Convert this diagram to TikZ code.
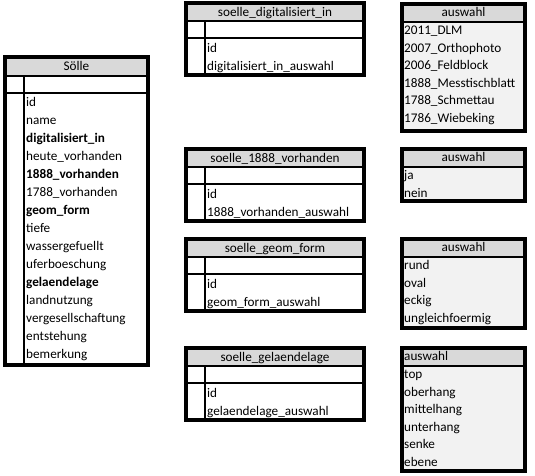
\documentclass[tikz,border=0pt]{standalone}
\usepackage{fontspec}
\setmainfont{Carlito}
\usetikzlibrary{positioning}
\definecolor{headgray}{HTML}{D9D9D9}
\definecolor{listgray}{HTML}{F2F2F2}
\tikzset{every node/.style={font=\fontsize{13.2}{15}\selectfont,inner sep=0pt,text height=9.5pt,text depth=2.5pt},
  frame/.style={line width=3.6pt},thinrule/.style={line width=1.1pt},midrule/.style={line width=2pt},
  entry/.style={anchor=west}}

\begin{document}
\begin{tikzpicture}[x=1pt,y=-1pt]
\useasboundingbox (0,0) rectangle (535,475);
% main table
\fill[headgray] (5,57) rectangle (148,76);
\draw[thinrule] (5,76)--(148,76); \draw[midrule] (5,93)--(148,93); \draw[thinrule] (24,76)--(24,365);
\draw[frame] (5,57) rectangle (148,365);
\node (soelle-head) at (76.5,66.5) {Sölle};
\foreach \f [count=\i from 0] in {id,name,\textbf{digitalisiert\_in},heute\_vorhanden,\textbf{1888\_vorhanden},1788\_vorhanden,\textbf{geom\_form},tiefe,wassergefuellt,uferboeschung,\textbf{gelaendelage},landnutzung,vergesellschaftung,entstehung,bemerkung}
  \node[entry] (soelle-\i) at (26,103+18*\i) {\f};
% link tables
\foreach \tn/\ty/\tlab/\tfld in {dig/3/soelle\_digitalisiert\_in/digitalisiert\_in\_auswahl,vor/149/soelle\_1888\_vorhanden/1888\_vorhanden\_auswahl,geo/239/soelle\_geom\_form/geom\_form\_auswahl,gel/348/soelle\_gelaendelage/gelaendelage\_auswahl}{
  \fill[headgray] (186,\ty) rectangle (364,\ty+18);
  \draw[thinrule] (186,\ty+18)--(364,\ty+18); \draw[midrule] (186,\ty+35)--(364,\ty+35); \draw[thinrule] (205,\ty+18)--(205,\ty+72);
  \draw[frame] (186,\ty) rectangle (364,\ty+72);
  \node (\tn-head) at (275,\ty+9.5) {\tlab};
  \node[entry] (\tn-id) at (207,\ty+46) {id}; \node[entry] (\tn-fld) at (207,\ty+64) {\tfld};}
% value lists
\foreach \an/\ay/\ab/\aitems in {dig/4/131/{2011\_DLM,2007\_Orthophoto,2006\_Feldblock,1888\_Messtischblatt,1788\_Schmettau,1786\_Wiebeking},vor/149/201/{ja,nein},geo/239/328/{rund,oval,eckig,ungleichfoermig},gel/348/471/{top,oberhang,mittelhang,unterhang,senke,ebene}}{
  \fill[headgray] (402,\ay) rectangle (525,\ay+18); \fill[listgray] (402,\ay+18) rectangle (525,\ab);
  \draw[midrule] (402,\ay+18)--(525,\ay+18);
  \draw[frame] (402,\ay) rectangle (525,\ab);
  \foreach \e [count=\j from 0] in \aitems \node[entry] (\an-val-\j) at (404,\ay+27+17.6*\j) {\e};}
\node (dig-list) at (463.5,13) {auswahl}; \node (vor-list) at (463.5,158) {auswahl};
\node (geo-list) at (463.5,248) {auswahl}; \node[entry] (gel-list) at (404,357) {auswahl};
\end{tikzpicture}
\end{document}
